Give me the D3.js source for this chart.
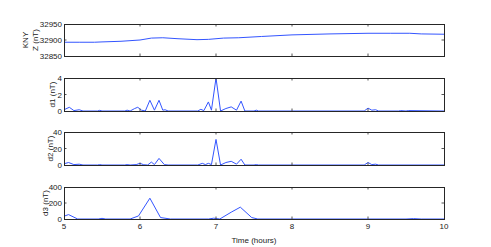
<!DOCTYPE html>
<html>
<head>
<meta charset="utf-8">
<script src="https://cdn.jsdelivr.net/npm/d3@7"></script>
<style>
  body { margin: 0; background: #fff; }
  svg { display: block; font-family: "Liberation Sans", Arial, sans-serif; }
</style>
</head>
<body>
<div id="chart"></div>
<script>
// Time axis (hours).
const xTicks = [5, 6, 7, 8, 9, 10];

// Panel 1: KNY Z component (nT).
const zTime = [5.0, 5.2, 5.4, 5.5, 5.75, 6.0, 6.15, 6.3, 6.5, 6.75, 6.9, 7.1, 7.3, 7.6, 8.0, 8.5, 9.0, 9.3, 9.55, 9.7, 10.0];
const zValue = [32893, 32893, 32893, 32894, 32896, 32900, 32906, 32907, 32904, 32901, 32902, 32906, 32907, 32911, 32916, 32919, 32921, 32921, 32921, 32919, 32918];
const zTicks = [32850, 32900, 32950];

// Panel 2: d1 (nT).
const d1Time = [5.0, 5.07, 5.13, 5.2, 5.25, 5.44, 5.47, 5.5, 5.8, 5.83, 5.87, 5.93, 5.97, 6.02, 6.07, 6.13, 6.19, 6.25, 6.3, 6.33, 6.37, 6.76, 6.8, 6.84, 6.9, 6.94, 7.0, 7.06, 7.13, 7.2, 7.27, 7.33, 7.38, 7.5, 7.53, 7.56, 8.95, 9.0, 9.05, 9.1, 9.14, 9.4, 9.43, 9.5, 9.53, 10.0];
const d1Value = [0.15, 0.45, 0.05, 0.15, 0, 0, 0.08, 0, 0, 0.1, 0, 0.3, 0.45, 0.1, 0, 1.3, 0.1, 1.3, 0.1, 0.15, 0, 0, 0.2, 0.05, 1.1, 0.1, 4.0, 0, 0.3, 0.5, 0.1, 1.2, 0, 0, 0.1, 0, 0, 0.35, 0.1, 0.15, 0, 0, 0.05, 0, 0.05, 0];
const d1Ticks = [0, 2, 4];

// Panel 3: d2 (nT).
const d2Time = [5.0, 5.06, 5.13, 5.2, 5.25, 5.44, 5.47, 5.5, 5.8, 5.83, 5.87, 5.95, 6.0, 6.05, 6.1, 6.15, 6.19, 6.25, 6.32, 6.37, 6.76, 6.82, 6.86, 6.9, 6.94, 7.0, 7.06, 7.13, 7.2, 7.27, 7.33, 7.38, 7.5, 7.53, 7.56, 8.95, 9.0, 9.05, 9.1, 9.14, 10.0];
const d2Value = [1.5, 3, 0.5, 1, 0, 0, 0.5, 0, 0, 0.5, 0, 0.5, 2, 0.3, 0, 3.5, 0.5, 8, 0.5, 0, 0, 2, 0.5, 2, 0.5, 31, 0, 3, 4.5, 1, 7, 0, 0, 0.5, 0, 0, 3, 0.5, 1, 0, 0];
const d2Ticks = [0, 20, 40];

// Panel 4: d3 (nT).
const d3Time = [5.0, 5.06, 5.18, 5.45, 5.5, 5.55, 5.87, 5.98, 6.13, 6.27, 6.4, 6.9, 6.97, 7.05, 7.2, 7.32, 7.47, 7.55, 9.5, 9.6, 9.7, 10.0];
const d3Value = [35, 55, 0, 0, 8, 0, 0, 38, 260, 18, 0, 0, 10, 0, 85, 148, 18, 0, 0, 5, 0, 0];
const d3Ticks = [0, 200, 400];

const panels = [
    {time: zTime, value: zValue, ticks: zTicks, top: 24, bottom: 56, labels: ['KNY', 'Z (nT)'], labelX: [28, 38]},
    {time: d1Time, value: d1Value, ticks: d1Ticks, top: 78, bottom: 111, labels: ['d1 (nT)'], labelX: [54.5]},
    {time: d2Time, value: d2Value, ticks: d2Ticks, top: 132, bottom: 165, labels: ['d2 (nT)'], labelX: [52.5]},
    {time: d3Time, value: d3Value, ticks: d3Ticks, top: 187, bottom: 219, labels: ['d3 (nT)'], labelX: [48]}
];

const width = 491, height = 247;
const left = 64, right = 444;
const axisColor = '#262626';
const tickColor = '#555';
const lineColor = '#3355ff';

const svg = d3.select('#chart')
    .append('svg')
        .attr('width', width)
        .attr('height', height)
        .attr('viewBox', `0 0 ${width} ${height}`);

const x = d3.scaleLinear().domain([5, 10]).range([left, right]);

panels.forEach((p, i) => {
    const ticks = p.ticks;
    const y = d3.scaleLinear().domain([ticks[0], ticks[ticks.length - 1]]).range([p.bottom, p.top]);
    const g = svg.append('g');

    // The data line.
    g.append('path')
        .datum(p.time.map((t, k) => [t, p.value[k]]))
        .attr('fill', 'none')
        .attr('stroke', lineColor)
        .attr('stroke-width', 1)
        .attr('d', d3.line().x(d => x(d[0])).y(d => y(d[1])));

    // Inner ticks on all four sides.
    const tl = 2.5;
    xTicks.slice(1, -1).forEach(t => {
        g.append('line').attr('x1', x(t)).attr('x2', x(t)).attr('y1', p.top).attr('y2', p.top + tl)
            .attr('stroke', tickColor);
        g.append('line').attr('x1', x(t)).attr('x2', x(t)).attr('y1', p.bottom).attr('y2', p.bottom - tl)
            .attr('stroke', tickColor);
    });
    ticks.slice(1, -1).forEach(v => {
        g.append('line').attr('x1', left).attr('x2', left + tl).attr('y1', y(v)).attr('y2', y(v))
            .attr('stroke', tickColor);
        g.append('line').attr('x1', right).attr('x2', right - tl).attr('y1', y(v)).attr('y2', y(v))
            .attr('stroke', tickColor);
    });

    // Box.
    g.append('rect')
        .attr('x', left + 0.5).attr('y', p.top + 0.5)
        .attr('width', right - left).attr('height', p.bottom - p.top)
        .attr('fill', 'none')
        .attr('stroke', axisColor)
        .attr('stroke-width', 1);

    // Y tick labels.
    g.selectAll('text.ytick')
        .data(ticks)
        .enter()
        .append('text')
            .attr('class', 'ytick')
            .attr('x', left - 2)
            .attr('y', d => y(d) + 3)
            .attr('text-anchor', 'end')
            .attr('font-size', 8)
            .attr('fill', '#222')
            .text(d => d);

    // Y label(s).
    const cy = (p.top + p.bottom) / 2;
    p.labels.forEach((lab, k) => {
        g.append('text')
            .attr('transform', `translate(${p.labelX[k]},${cy}) rotate(-90)`)
            .attr('text-anchor', 'middle')
            .attr('font-size', 8)
            .attr('fill', '#222')
            .text(lab);
    });

    // X tick labels on last panel.
    if (i === panels.length - 1) {
        g.selectAll('text.xtick')
            .data(xTicks)
            .enter()
            .append('text')
                .attr('x', d => x(d))
                .attr('y', p.bottom + 10)
                .attr('text-anchor', 'middle')
                .attr('font-size', 8)
                .attr('fill', '#222')
                .text(d => d);
    }
});

svg.append('text')
    .attr('x', (left + right) / 2)
    .attr('y', 243)
    .attr('text-anchor', 'middle')
    .attr('font-size', 8)
    .attr('fill', '#222')
    .text('Time (hours)');
</script>
</body>
</html>
